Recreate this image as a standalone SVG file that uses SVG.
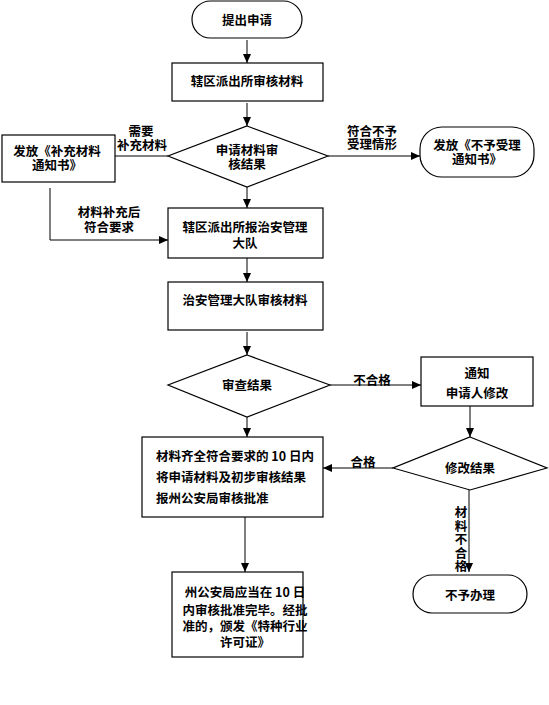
<svg xmlns="http://www.w3.org/2000/svg" width="549" height="705" viewBox="0 0 549 705">
<style>
.s{fill:#fff;stroke:#000;stroke-width:1.2}
.c{fill:none;stroke:#000;stroke-width:1}
text{font-family:"Noto Sans CJK SC","Liberation Sans",sans-serif;font-size:12.5px;font-weight:bold;fill:#000}
.m{text-anchor:middle}
</style>
<defs>
<marker id="a" markerWidth="9" markerHeight="8" refX="9" refY="4" orient="auto" markerUnits="userSpaceOnUse">
<path d="M0,0 L9,4 L0,8 Z" fill="#000"/>
</marker>
</defs>
<rect width="549" height="705" fill="#fff"/>
<g id="connectors">
<line class="c" x1="247" y1="40" x2="247" y2="63" marker-end="url(#a)"/>
<line class="c" x1="247" y1="103" x2="247" y2="126" marker-end="url(#a)"/>
<line class="c" x1="168" y1="156" x2="115" y2="156"/>
<line class="c" x1="328" y1="156" x2="420" y2="156" marker-end="url(#a)"/>
<line class="c" x1="247" y1="187" x2="247" y2="208" marker-end="url(#a)"/>
<polyline class="c" points="50,188 50,240 168,240" marker-end="url(#a)"/>
<line class="c" x1="247" y1="258" x2="247" y2="282" marker-end="url(#a)"/>
<line class="c" x1="247" y1="332" x2="247" y2="355" marker-end="url(#a)"/>
<line class="c" x1="330" y1="385" x2="421" y2="385" marker-end="url(#a)"/>
<line class="c" x1="470" y1="406" x2="470" y2="437" marker-end="url(#a)"/>
<line class="c" x1="393" y1="468" x2="323" y2="468" marker-end="url(#a)"/>
<line class="c" x1="247" y1="417" x2="247" y2="437" marker-end="url(#a)"/>
<line class="c" x1="245" y1="517" x2="245" y2="572" marker-end="url(#a)"/>
<line class="c" x1="469" y1="490" x2="469" y2="572" marker-end="url(#a)"/>
<text class="m" x="141" y="136">需要</text>
<text class="m" x="142" y="150">补充材料</text>
<text class="m" x="372" y="136">符合不予</text>
<text class="m" x="372" y="149">受理情形</text>
<text class="m" x="109" y="217">材料补充后</text>
<text class="m" x="109" y="232">符合要求</text>
<text class="m" x="372" y="385">不合格</text>
<text class="m" x="363" y="467">合格</text>
<text x="461" y="506" writing-mode="tb" style="writing-mode:vertical-rl;letter-spacing:1px">材料不合格</text>
</g>
<g id="start">
<rect class="s" x="192" y="1" width="110" height="37" rx="18.5"/>
<text class="m" x="247" y="24.5">提出申请</text>
</g>
<g id="box1">
<rect class="s" x="172" y="63" width="151" height="38"/>
<text class="m" x="247" y="85.5">辖区派出所审核材料</text>
</g>
<g id="dec1">
<polygon class="s" points="247,126 328,156 247,187 168,156"/>
<text class="m" x="247" y="154.5">申请材料审</text>
<text class="m" x="247" y="168.5">核结果</text>
</g>
<g id="supp">
<rect class="s" x="2" y="135" width="113" height="47"/>
<text class="m" x="57" y="156">发放《补充材料</text>
<text class="m" x="57" y="170">通知书》</text>
</g>
<g id="reject1">
<rect class="s" x="420" y="127" width="114" height="50" rx="22"/>
<text class="m" x="477" y="149.5">发放《不予受理</text>
<text class="m" x="477" y="163.5">通知书》</text>
</g>
<g id="box2">
<rect class="s" x="168" y="208" width="155" height="50"/>
<text class="m" x="245" y="231.5">辖区派出所报治安管理</text>
<text class="m" x="245" y="247.5">大队</text>
</g>
<g id="box3">
<rect class="s" x="168" y="282" width="155" height="48"/>
<text class="m" x="245" y="304.5">治安管理大队审核材料</text>
</g>
<g id="dec2">
<polygon class="s" points="247,355 330,385 247,417 168,385"/>
<text class="m" x="247" y="389.5">审查结果</text>
</g>
<g id="notify">
<rect class="s" x="421" y="357" width="112" height="49"/>
<text class="m" x="477" y="377.5">通知</text>
<text class="m" x="477" y="397.5">申请人修改</text>
</g>
<g id="dec3">
<polygon class="s" points="470,437 547,468 470,490 393,468"/>
<text class="m" x="470" y="472.5">修改结果</text>
</g>
<g id="box4">
<rect class="s" x="142" y="437" width="181" height="80"/>
<text x="156" y="460.5">材料齐全符合要求的 10 日内</text>
<text x="156" y="481.5">将申请材料及初步审核结果</text>
<text x="156" y="502.5">报州公安局审核批准</text>
</g>
<g id="box5">
<rect class="s" x="172" y="572" width="131" height="85"/>
<text class="m" x="245" y="596.5">州公安局应当在 10 日</text>
<text class="m" x="245" y="614.5">内审核批准完毕。经批</text>
<text class="m" x="245" y="630.5">准的，颁发《特种行业</text>
<text class="m" x="245" y="646.5">许可证》</text>
</g>
<g id="end">
<rect class="s" x="413" y="575" width="114" height="38" rx="19"/>
<text class="m" x="470" y="599.5">不予办理</text>
</g>
</svg>
